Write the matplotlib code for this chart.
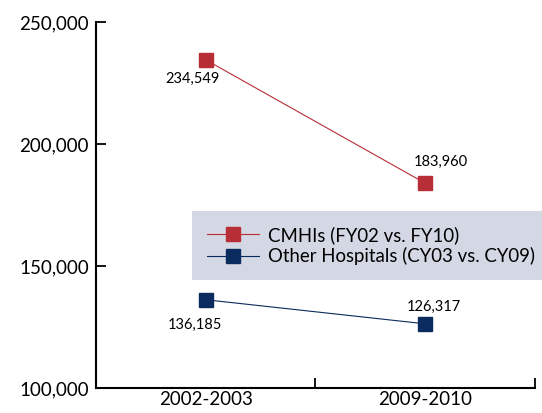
import matplotlib
matplotlib.use("Agg")
import matplotlib.pyplot as plt

plt.rcParams['font.family'] = ['Lato', 'DejaVu Sans']

periods = ['2002-2003', '2009-2010']
cmhi_values = [234549, 183960]
other_values = [136185, 126317]
series_names = ['CMHIs (FY02 vs. FY10)', 'Other Hospitals (CY03 vs. CY09)']
y_ticks = [100000, 150000, 200000, 250000]

red = '#B72E37'
navy = '#0A2B5E'

fig = plt.figure(figsize=(5.42, 4.13), dpi=100)
ax = fig.add_axes([0.177, 0.0605, 0.81, 0.886])

xpos = [0.5, 1.5]
ax.plot(xpos, cmhi_values, color=red, lw=0.8, marker='s', ms=10,
        markerfacecolor=red, markeredgecolor=red, label=series_names[0])
ax.plot(xpos, other_values, color=navy, lw=0.8, marker='s', ms=10,
        markerfacecolor=navy, markeredgecolor=navy, label=series_names[1])

# value labels (offsets in points from marker centre)
offsets_cmhi = [(-9.5, -13.5), (11.5, 15)]
offsets_other = [(-8, -18), (6.5, 12)]
for x, v, off in zip(xpos, cmhi_values, offsets_cmhi):
    ax.annotate(f'{v:,}', (x, v), xytext=off, textcoords='offset points',
                ha='center', va='center', fontsize=10.5)
for x, v, off in zip(xpos, other_values, offsets_other):
    ax.annotate(f'{v:,}', (x, v), xytext=off, textcoords='offset points',
                ha='center', va='center', fontsize=10.5)

ax.set_xlim(0, 2)
ax.set_ylim(100000, 250000)
ax.set_yticks(y_ticks)
ax.set_yticklabels([f'{v:,}' for v in y_ticks], fontsize=13.5)
ax.set_xticks([1, 2])
ax.set_xticklabels(['', ''])
ax.set_xticks(xpos, minor=True)
ax.set_xticklabels(periods, minor=True, fontsize=13.5)
ax.tick_params(axis='x', which='minor', length=0, pad=2)
ax.tick_params(axis='x', which='major', direction='in', length=7, width=1.3)
ax.tick_params(axis='y', direction='in', length=7, width=1.3, pad=5)

for s in ['top', 'right']:
    ax.spines[s].set_visible(False)
for s in ['left', 'bottom']:
    ax.spines[s].set_linewidth(1.5)

leg = ax.legend(loc='upper left', bbox_to_anchor=(0.219, 0.484), fontsize=13.4,
                frameon=True, fancybox=False, borderaxespad=0, handlelength=2.8,
                labelspacing=0.2, borderpad=0.8, handletextpad=0.5)
leg.get_frame().set_facecolor('#D3D8E4')
leg.get_frame().set_edgecolor('none')
leg.get_frame().set_alpha(1)
for line in leg.get_lines():
    line.set_linewidth(0.8)

fig.savefig('out.png', dpi=100)
